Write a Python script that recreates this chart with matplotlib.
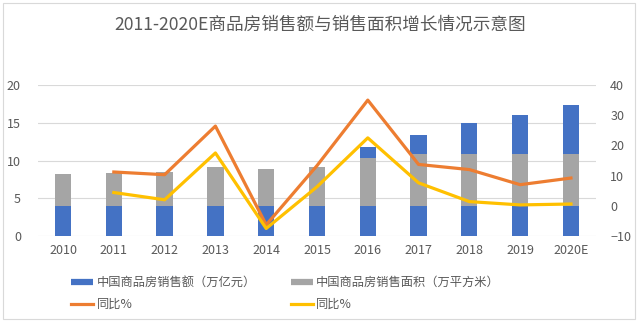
import matplotlib.pyplot as plt
import numpy as np
from matplotlib.patches import Rectangle
from matplotlib.lines import Line2D

plt.rcParams['font.family'] = ['Noto Sans CJK SC', 'DejaVu Sans']

years = ['2010', '2011', '2012', '2013', '2014', '2015', '2016', '2017', '2018', '2019', '2020E']
sales_amount = [5.25, 5.91, 6.45, 8.14, 7.63, 8.73, 11.76, 13.37, 15.0, 15.97, 17.4]
sales_area = [10.4, 10.8, 11.1, 13.0, 12.1, 13.0, 15.9, 17.3, 17.3, 17.3, 17.3]
amount_yoy = [None, 11.2, 10.3, 26.4, -6.3, 13.3, 35.0, 13.7, 12.0, 7.0, 9.2]
area_yoy = [None, 4.4, 2.0, 17.5, -7.5, 6.3, 22.5, 7.6, 1.4, 0.3, 0.6]

label_amount = '中国商品房销售额（万亿元）'
label_area = '中国商品房销售面积（万平方米）'
label_yoy = '同比%'

blue = '#4472C4'
gray = '#A5A5A5'
orange = '#ED7D31'
yellow = '#FFC000'
txt = '#595959'

fig = plt.figure(figsize=(6.4, 3.22), dpi=100)
ax = fig.add_axes([0.0588, 0.267, 0.873, 0.469])
ax2 = ax.twinx()

x = np.arange(len(years))
w = 0.32

ax.bar(x, sales_amount, width=w, color=blue, zorder=2)
ax.set_ylim(0, 20)
ax.set_yticks([0, 5, 10, 15, 20])
ax.set_xlim(-0.5, len(years) - 0.5)
ax.set_xticks(x)
ax.set_xticklabels(years)
ax.yaxis.grid(True, color='#D9D9D9', linewidth=0.8, zorder=0)
ax.set_axisbelow(True)

# gray bars sit on the right axis, so they start from 0 there
ax2.bar(x, sales_area, width=w, color=gray, zorder=2)
yx = [i for i, v in enumerate(amount_yoy) if v is not None]
ax2.plot(yx, [amount_yoy[i] for i in yx], color=orange, linewidth=2.3, zorder=3)
ax2.plot(yx, [area_yoy[i] for i in yx], color=yellow, linewidth=2.3, zorder=4)
ax2.set_ylim(-10, 40)
ax2.set_yticks([-10, 0, 10, 20, 30, 40])

for a in (ax, ax2):
    for s in a.spines.values():
        s.set_visible(False)
    a.tick_params(length=0, labelsize=9, colors=txt, pad=6)
ax.tick_params(axis='y', pad=12)
ax2.tick_params(axis='y', pad=10)

fig.text(0.5, 0.922, '2011-2020E商品房销售额与销售面积增长情况示意图',
         ha='center', va='center', fontsize=12.7, color=txt)

h_amount = Line2D([], [], color=blue, linewidth=4.5, solid_capstyle='butt')
h_area = Line2D([], [], color=gray, linewidth=4.5, solid_capstyle='butt')
h_yoy1 = Line2D([], [], color=orange, linewidth=2.3)
h_yoy2 = Line2D([], [], color=yellow, linewidth=2.3)
# legend fills by column, so order it to read row by row
fig.legend([h_amount, h_yoy1, h_area, h_yoy2],
           [label_amount, label_yoy, label_area, label_yoy],
           ncol=2, loc='upper left', bbox_to_anchor=(0.104, 0.158),
           frameon=False, fontsize=8.8, labelcolor=txt, handlelength=1.8,
           handletextpad=0.3, columnspacing=2.8, borderaxespad=0,
           labelspacing=0.75)

fig.patches.append(Rectangle((0.005, 0.01), 0.987, 0.98, transform=fig.transFigure,
                             fill=False, edgecolor='#D9D9D9', linewidth=0.8))

fig.savefig('out.png', dpi=100)
